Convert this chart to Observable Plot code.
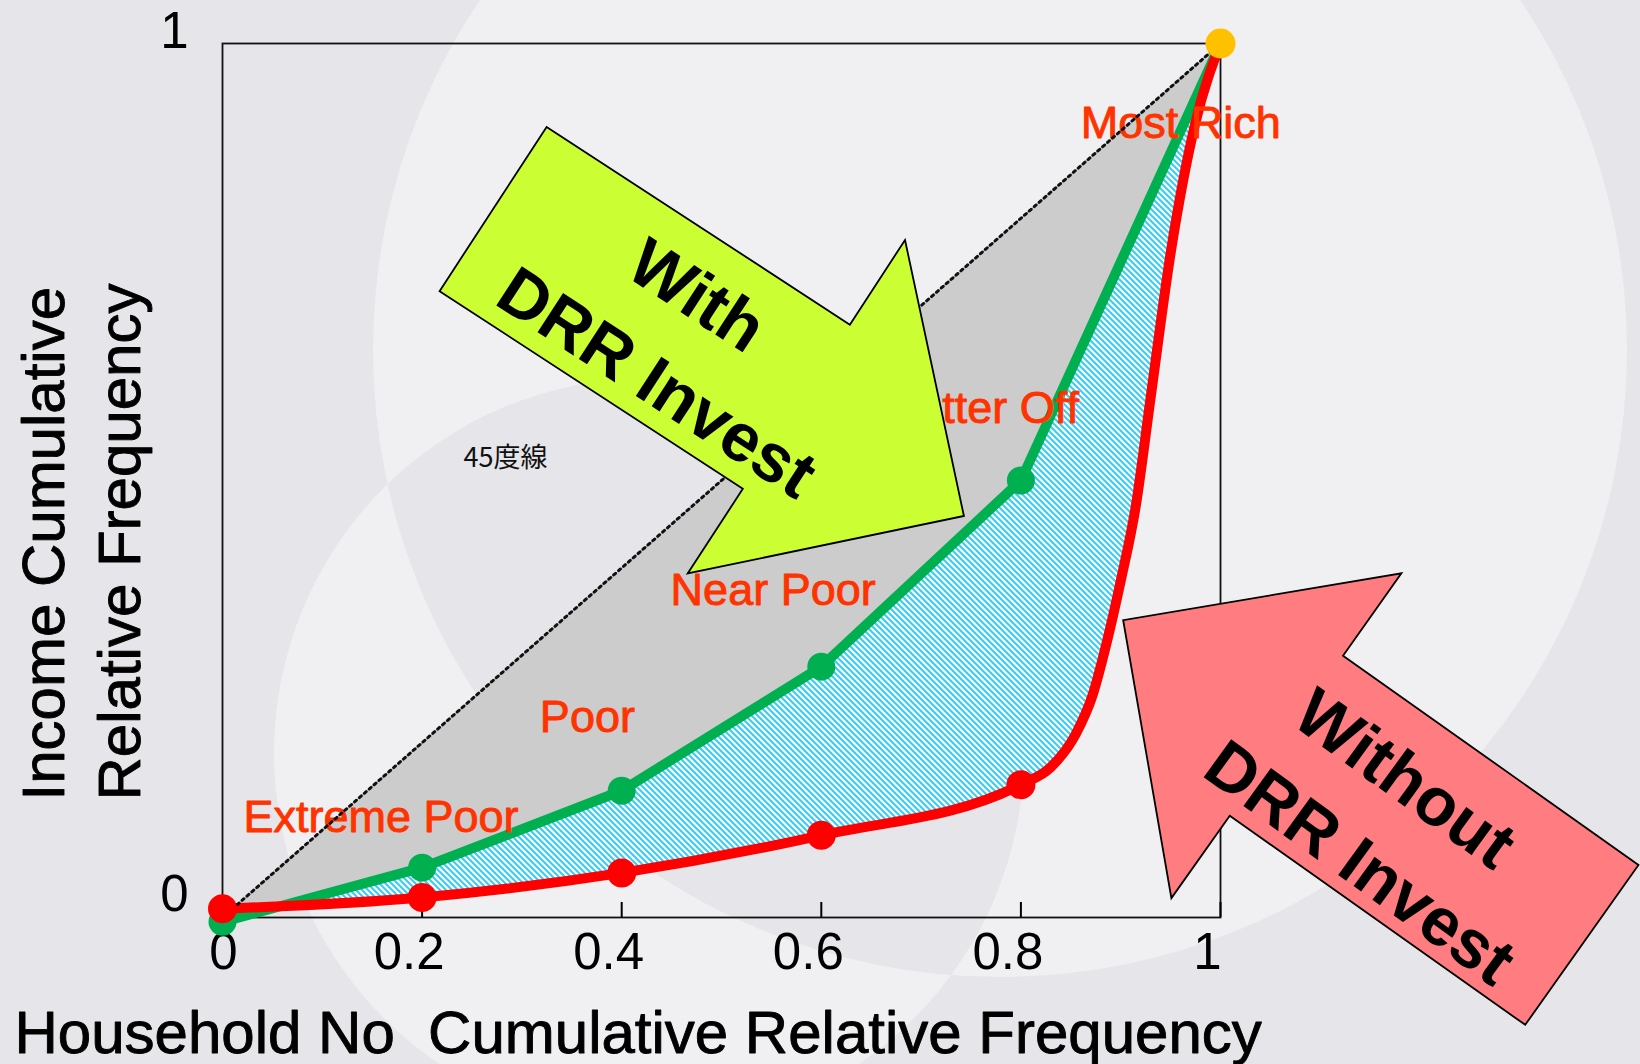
<!DOCTYPE html>
<html>
<head>
<meta charset="utf-8">
<script src="https://cdn.jsdelivr.net/npm/d3@7"></script>
<script src="https://cdn.jsdelivr.net/npm/@observablehq/plot@0.6"></script>
<style>
html, body { margin: 0; padding: 0; }
body {
  width: 1640px; height: 1064px; overflow: hidden;
  background-color: #e5e5ea;
  background-image: url("data:image/svg+xml,%3Csvg xmlns='http://www.w3.org/2000/svg' width='1640' height='1064'%3E%3Cpath fill-rule='evenodd' fill='%23f0f0f3' d='M373,350a627,627 0 1,0 1254,0a627,627 0 1,0 -1254,0Z M274,753a375,375 0 1,0 750,0a375,375 0 1,0 -750,0Z'/%3E%3C/svg%3E");
  background-repeat: no-repeat;
}
#chart svg { display: block; }
</style>
</head>
<body>
<div id="chart"></div>
<script>
// ---- data ----
const quintiles = [0, 0.2, 0.4, 0.6, 0.8, 1];
const incomeWithDRR = [-0.005, 0.057, 0.145, 0.287, 0.500, 1];
const incomeWithoutDRR = [0.010, 0.023, 0.051, 0.094, 0.152, 1];
// traced points of the curved "without DRR" line between 0.8 and 1
const tracedWithoutX = [0.83, 0.855, 0.872, 0.885, 0.9, 0.915, 0.93, 0.95, 0.975];
const tracedWithoutY = [0.172, 0.21, 0.255, 0.31, 0.385, 0.47, 0.595, 0.76, 0.91];

const xTicks = [0, 0.2, 0.4, 0.6, 0.8, 1];
const xTickLabels = ["0", "0.2", "0.4", "0.6", "0.8", "1"];
const yTicks = [0, 1];
const yTickLabels = ["0", "1"];

const groupLabels = ["Extreme Poor", "Poor", "Near Poor", "Better Off", "Most Rich"];
const groupLabelX = [0.021, 0.318, 0.449, 0.666, 0.860];
const groupLabelY = [0.114, 0.229, 0.374, 0.582, 0.908];

const diagLabel = ["45度線"];
const xTitle = ["Household No\u00a0 Cumulative Relative Frequency"];
const yTitleLines = ["Income Cumulative", "Relative Frequency"];
const withLines = ["With", "DRR Invest"];
const withoutLines = ["Without", "DRR Invest"];

// ---- tables ----
const greenRows = quintiles.map((x, i) => ({x, y: incomeWithDRR[i]}));
const redMarkers = quintiles.map((x, i) => ({x, y: incomeWithoutDRR[i]}));
const redRows = redMarkers.concat(tracedWithoutX.map((x, i) => ({x, y: tracedWithoutY[i]})))
  .sort((a, b) => a.x - b.x);
const labelRows = groupLabels.map((t, i) => ({t, x: groupLabelX[i], y: groupLabelY[i]}));
const topPoint = [{x: quintiles[5], y: incomeWithDRR[5]}];

function blockArrow(angleDeg, len, shaftW, headW, headLen) {
  const a = angleDeg * Math.PI / 180, c = Math.cos(a), s = Math.sin(a);
  const h = len / 2, sw = shaftW / 2, hw = headW / 2, b = h - headLen;
  const pts = [[-h, -sw], [b, -sw], [b, -hw], [h, 0], [b, hw], [b, sw], [-h, sw]]
    .map(([x, y]) => [x * c - y * s, x * s + y * c]);
  return {draw(ctx) {
    ctx.moveTo(pts[0][0], pts[0][1]);
    for (const p of pts.slice(1)) ctx.lineTo(p[0], p[1]);
    ctx.closePath();
  }};
}

const FONT = "'Liberation Sans', Arial, sans-serif";
const LABEL = "#ff3300";
const centered = {textAnchor: "middle", lineAnchor: "middle"};
const heavy = {fill: "#000", stroke: "#000", strokeWidth: 0.9};

const svg = Plot.plot({
  width: 1640,
  height: 1064,
  marginLeft: 222,
  marginRight: 420,
  marginTop: 43,
  marginBottom: 147,
  x: {domain: [0, 1]},
  y: {domain: [0, 1]},
  style: {background: "transparent", overflow: "visible", fontFamily: FONT, color: "black"},
  marks: [
    // hatched region (red curve up to diagonal), covered above the green line by grey
    Plot.areaY(redRows, {x: "x", y1: "y", y2: "x", fill: "url(#hatch)", curve: "monotone-x"}),
    Plot.areaY(greenRows, {x: "x", y1: "y", y2: "x", fill: "#cccccc"}),
    Plot.frame({stroke: "#111", strokeWidth: 1.8}),
    Plot.axisX({ticks: xTicks, tickSize: 15, dy: -15, tickFormat: () => "", strokeWidth: 2, label: null}),
    Plot.axisX({ticks: xTicks.slice(0, 1), tickSize: 0, tickPadding: 15, dx: 1, fontSize: 51,
      tickFormat: d => xTickLabels[xTicks.indexOf(d)], label: null}),
    Plot.axisX({ticks: xTicks.slice(1), tickSize: 0, tickPadding: 15, dx: -13, fontSize: 51,
      tickFormat: d => xTickLabels[xTicks.indexOf(d)], label: null}),
    Plot.axisY({ticks: [yTicks[1]], tickSize: 0, tickPadding: 34, dy: -12, fontSize: 51,
      tickFormat: d => yTickLabels[yTicks.indexOf(d)], label: null}),
    Plot.axisY({ticks: [yTicks[0]], tickSize: 0, tickPadding: 34, dy: -23, fontSize: 51,
      tickFormat: d => yTickLabels[yTicks.indexOf(d)], label: null}),
    Plot.line(greenRows, {x: "x", y: "y", stroke: "#00b050", strokeWidth: 10, strokeLinejoin: "round"}),
    Plot.line(redRows, {x: "x", y: "y", stroke: "#ff0000", strokeWidth: 10, curve: "monotone-x"}),
    Plot.text(labelRows, {x: "x", y: "y", text: "t", fill: LABEL, stroke: LABEL, strokeWidth: 0.9,
      fontSize: 45, textAnchor: "start"}),
    Plot.text(diagLabel, {x: 0.2415, y: 0.525, text: d => d, fontSize: 27, textAnchor: "start",
      fontFamily: "'Noto Sans CJK JP', sans-serif", fill: "#111"}),
    Plot.line([0, 1], {x: d => d, y: d => d, stroke: "#111", strokeWidth: 3, strokeDasharray: "2.5,4"}),
    Plot.dot(greenRows.slice(0, 5), {x: "x", y: "y", r: 14, fill: "#00b050"}),
    Plot.dot(redMarkers.slice(0, 5), {x: "x", y: "y", r: 14.5, fill: "#ff0000"}),
    Plot.dot(topPoint, {x: "x", y: "y", r: 15, fill: "#ffc000"}),
    // block arrows (annotations)
    Plot.dot([0], {frameAnchor: "top-left", dx: 506, dy: 319, r: 5,
      symbol: blockArrow(33.1, 562, 196, 398, 200), fill: "#ccff33", stroke: "#000", strokeWidth: 1.8}),
    Plot.dot([0], {frameAnchor: "top-left", dx: 1130, dy: 739, r: 5,
      symbol: blockArrow(215.3, 562, 196, 398, 200), fill: "#ff7c80", stroke: "#000", strokeWidth: 1.8}),
    Plot.text([withLines[0]], {frameAnchor: "top-left", ...centered, dx: 474, dy: 253, rotate: 33, text: d => d,
      fontSize: 68, fontWeight: "bold", fill: "#000"}),
    Plot.text([withLines[1]], {frameAnchor: "top-left", ...centered, dx: 434, dy: 340, rotate: 33, text: d => d,
      fontSize: 68, fontWeight: "bold", fill: "#000"}),
    Plot.text([withoutLines[0]], {frameAnchor: "top-left", ...centered, dx: 1182, dy: 736, rotate: 36, text: d => d,
      fontSize: 68, fontWeight: "bold", fill: "#000"}),
    Plot.text([withoutLines[1]], {frameAnchor: "top-left", ...centered, dx: 1137, dy: 820, rotate: 36, text: d => d,
      fontSize: 68, fontWeight: "bold", fill: "#000"}),
    // axis titles
    Plot.text(xTitle, {frameAnchor: "top-left", textAnchor: "start", lineAnchor: "middle", ...heavy,
      dx: -208, dy: 990, text: d => d, fontSize: 60}),
    Plot.text([yTitleLines[0]], {frameAnchor: "top-left", textAnchor: "start", lineAnchor: "middle", ...heavy,
      dx: -178, dy: 757, rotate: -90, text: d => d, fontSize: 60}),
    Plot.text([yTitleLines[1]], {frameAnchor: "top-left", textAnchor: "start", lineAnchor: "middle", ...heavy,
      dx: -102, dy: 757, rotate: -90, text: d => d, fontSize: 60})
  ]
});

// hatch pattern for the area between the two curves
const defs = d3.select(svg).insert("defs", ":first-child");
const pat = defs.append("pattern").attr("id", "hatch").attr("patternUnits", "userSpaceOnUse")
  .attr("width", 6).attr("height", 6);
pat.append("rect").attr("width", 6).attr("height", 6).attr("fill", "#ffffff");
pat.append("path").attr("d", "M-1,-1L7,7M-1,5L1,7M5,-1L7,1")
  .attr("stroke", "#33ccff").attr("stroke-width", 2);

document.getElementById("chart").appendChild(svg);
</script>
</body>
</html>
